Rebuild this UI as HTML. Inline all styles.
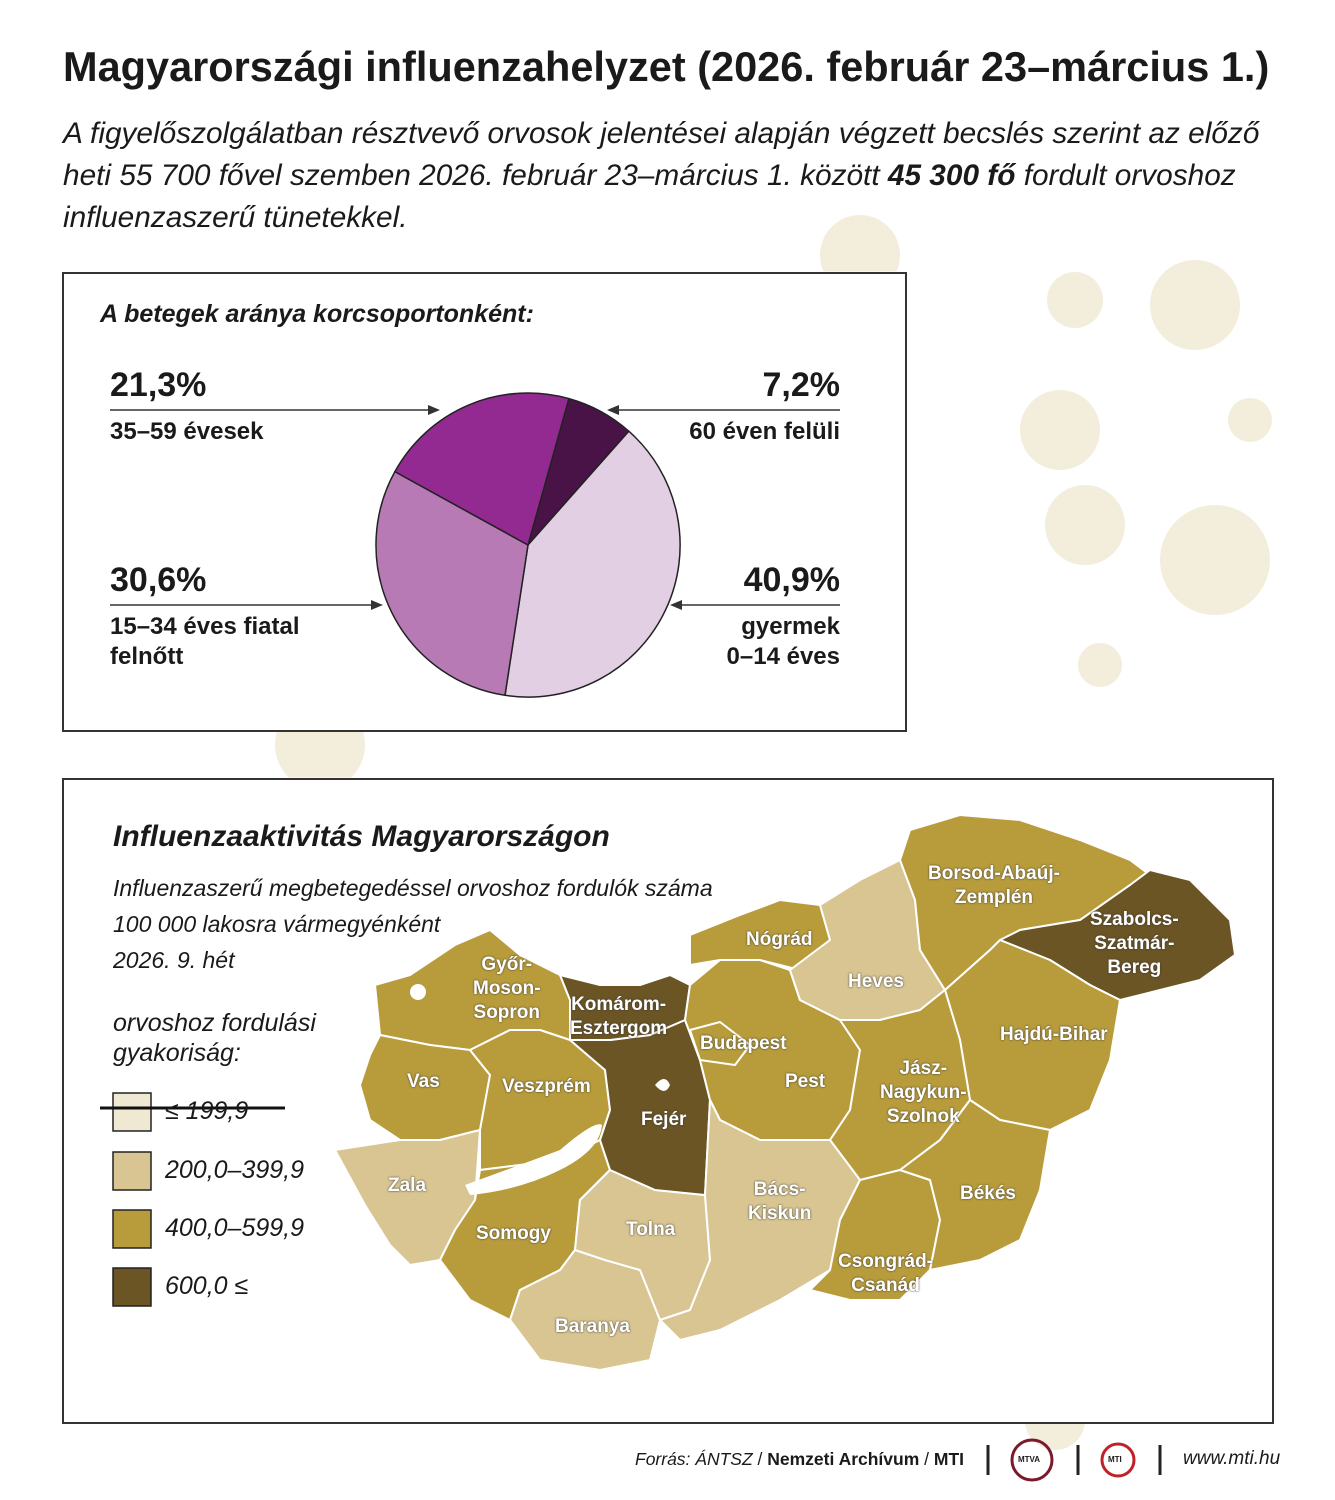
<!DOCTYPE html>
<html><head><meta charset="utf-8"><style>
body{margin:0;background:#fff;width:1335px;height:1500px;overflow:hidden;position:relative;font-family:"Liberation Sans",sans-serif;color:#1a1a1a}
.t{position:absolute;white-space:nowrap}
.box{position:absolute;border:2px solid #333;background:transparent}
</style></head><body>
<svg width="1335" height="1500" style="position:absolute;left:0;top:0">
<g fill="#f3eddc">
<circle cx="860" cy="255" r="40"/><circle cx="1195" cy="305" r="45"/><circle cx="1075" cy="300" r="28"/>
<circle cx="1060" cy="430" r="40"/><circle cx="1250" cy="420" r="22"/><circle cx="1085" cy="525" r="40"/>
<circle cx="1215" cy="560" r="55"/><circle cx="1100" cy="665" r="22"/><circle cx="320" cy="745" r="45"/>
<circle cx="1250" cy="1310" r="20"/><circle cx="375" cy="1380" r="40"/><circle cx="1055" cy="1420" r="30"/>
<circle cx="1090" cy="1330" r="18"/>
</g>
<g fill="#fff" stroke="#fff" stroke-width="1"><rect x="62" y="272" width="843" height="458"/><rect x="62" y="778" width="1210" height="644"/></g>
<g stroke="#fff" stroke-width="2" stroke-linejoin="round">
<polygon fill="#b89c3c" points="375,985 410,975 455,945 490,930 520,955 560,975 570,1000 570,1040 540,1030 510,1030 470,1050 430,1045 380,1035"/>
<polygon fill="#b89c3c" points="380,1035 430,1045 470,1050 490,1075 480,1130 440,1140 400,1140 370,1120 360,1085 370,1055"/>
<polygon fill="#d8c592" points="335,1150 400,1140 440,1140 480,1130 475,1200 455,1230 440,1260 410,1265 390,1245 365,1205"/>
<polygon fill="#b89c3c" points="470,1050 510,1030 540,1030 570,1040 605,1070 610,1110 600,1140 560,1160 480,1170 480,1130 490,1075"/>
<polygon fill="#b89c3c" points="455,1230 475,1200 480,1170 560,1160 600,1140 610,1170 580,1200 575,1250 560,1270 520,1290 510,1320 470,1300 440,1260"/>
<polygon fill="#d8c592" points="520,1290 560,1270 575,1250 605,1260 640,1270 660,1320 650,1360 600,1370 540,1360 510,1320"/>
<polygon fill="#d8c592" points="575,1250 580,1200 610,1170 655,1190 705,1195 710,1260 690,1310 660,1320 640,1270 605,1260"/>
<polygon fill="#6b5525" points="570,1040 610,1040 650,1035 685,1020 700,1060 710,1100 705,1195 655,1190 610,1170 600,1140 610,1110 605,1070"/>
<polygon fill="#6b5525" points="560,975 600,985 640,985 670,975 690,985 685,1020 650,1035 610,1040 570,1040 570,1000"/>
<polygon fill="#b89c3c" points="685,1020 690,985 720,960 760,960 790,970 800,1000 840,1020 860,1050 850,1110 830,1140 790,1140 760,1140 720,1120 710,1100 700,1060"/>
<polygon fill="#b89c3c" points="690,1030 720,1022 750,1045 735,1065 700,1060"/>
<polygon fill="#b89c3c" points="690,935 740,915 780,900 820,905 830,940 800,970 760,960 720,960 690,965"/>
<polygon fill="#d8c592" points="820,905 860,880 900,860 915,900 920,950 945,990 920,1010 880,1020 840,1020 800,1000 790,970 830,940"/>
<polygon fill="#b89c3c" points="900,860 910,830 960,815 1020,820 1080,840 1130,860 1150,875 1080,920 1020,930 990,950 945,990 920,950 915,900"/>
<polygon fill="#6b5525" points="1150,870 1190,880 1230,920 1235,955 1200,980 1160,990 1120,1000 1090,985 1050,960 1000,940 1020,930 1080,920 1130,885"/>
<polygon fill="#b89c3c" points="1000,940 1050,960 1090,985 1120,1000 1110,1060 1090,1110 1050,1130 1000,1120 970,1100 960,1040 945,990 990,950"/>
<polygon fill="#b89c3c" points="840,1020 880,1020 920,1010 945,990 960,1040 970,1100 940,1140 900,1170 860,1180 830,1140 850,1110 860,1050"/>
<polygon fill="#d8c592" points="710,1100 720,1120 760,1140 790,1140 830,1140 860,1180 840,1220 830,1270 780,1300 720,1330 680,1340 660,1320 690,1310 710,1260 705,1195"/>
<polygon fill="#b89c3c" points="860,1180 900,1170 930,1180 940,1220 930,1270 900,1300 850,1300 810,1290 830,1270 840,1220"/>
<polygon fill="#b89c3c" points="900,1170 940,1140 970,1100 1000,1120 1050,1130 1040,1190 1020,1240 980,1260 930,1270 940,1220 930,1180"/>
</g>
<path d="M465,1185 Q520,1165 560,1150 Q595,1120 602,1125 Q600,1150 560,1170 Q520,1190 470,1195 Z" fill="#fff"/>
<circle cx="418" cy="992" r="8" fill="#fff"/>
<path d="M655,1085 q10,-12 15,0 q-5,12 -15,0z" fill="#fff"/>
<g stroke="#333" stroke-width="1.5">
<line x1="110" y1="410" x2="435" y2="410"/><line x1="612" y1="410" x2="840" y2="410"/>
<line x1="110" y1="605" x2="378" y2="605"/><line x1="675" y1="605" x2="840" y2="605"/>
</g>
<g fill="#333"><polygon points="440,410 428,405 428,415"/><polygon points="607,410 619,405 619,415"/><polygon points="383,605 371,600 371,610"/><polygon points="670,605 682,600 682,610"/></g>
<g stroke="#222" stroke-width="1.5" stroke-linejoin="round">
<path d="M528,545 L568.9,398.6 A152,152 0 0 1 628.8,431.2 Z" fill="#4a1347"/>
<path d="M528,545 L628.8,431.2 A152,152 0 0 1 505,695.3 Z" fill="#e3cfe3"/>
<path d="M528,545 L505,695.3 A152,152 0 0 1 394.9,471.6 Z" fill="#b77ab5"/>
<path d="M528,545 L394.9,471.6 A152,152 0 0 1 568.9,398.6 Z" fill="#932a91"/>
</g>
<g stroke="#222" stroke-width="1.5">
<rect x="113" y="1093" width="38" height="38" fill="#efe8d3"/><rect x="113" y="1152" width="38" height="38" fill="#d8c592"/>
<rect x="113" y="1210" width="38" height="38" fill="#b89c3c"/><rect x="113" y="1268" width="38" height="38" fill="#6b5525"/>
</g>
<line x1="100" y1="1108" x2="285" y2="1108" stroke="#111" stroke-width="3"/>
<circle cx="1032" cy="1460" r="20" fill="none" stroke="#7a1a2a" stroke-width="3"/>
<circle cx="1118" cy="1460" r="16" fill="none" stroke="#c0202a" stroke-width="3"/>
<g stroke="#222" stroke-width="3"><line x1="988" y1="1445" x2="988" y2="1475"/><line x1="1078" y1="1445" x2="1078" y2="1475"/><line x1="1160" y1="1445" x2="1160" y2="1475"/></g>
</svg>
<div class="box" style="left:62px;top:272px;width:841px;height:456px"></div>
<div class="box" style="left:62px;top:778px;width:1208px;height:642px"></div>
<div class="t" style="left:63px;top:43px;font-size:41.5px;font-weight:bold">Magyarországi influenzahelyzet (2026. február 23–március 1.)</div>
<div class="t" style="left:63px;top:113px;font-size:29.8px;font-style:italic;line-height:42px">A figyelőszolgálatban résztvevő orvosok jelentései alapján végzett becslés szerint az előző<br>heti 55 700 fővel szemben 2026. február 23–március 1. között <b>45 300 fő</b> fordult orvoshoz<br>influenzaszerű tünetekkel.</div>
<div class="t" style="left:100px;top:300px;font-size:25px;font-weight:bold;font-style:italic">A betegek aránya korcsoportonként:</div>
<div class="t" style="left:110px;top:366px;font-size:34px;font-weight:bold">21,3%</div>
<div class="t" style="left:110px;top:418px;font-size:24px;font-weight:bold">35–59 évesek</div>
<div class="t" style="right:495px;top:366px;font-size:34px;font-weight:bold">7,2%</div>
<div class="t" style="right:495px;top:418px;font-size:24px;font-weight:bold">60 éven felüli</div>
<div class="t" style="left:110px;top:561px;font-size:34px;font-weight:bold">30,6%</div>
<div class="t" style="left:110px;top:612px;font-size:24px;font-weight:bold;line-height:30px">15–34 éves fiatal<br>felnőtt</div>
<div class="t" style="right:495px;top:561px;font-size:34px;font-weight:bold">40,9%</div>
<div class="t" style="right:495px;top:612px;font-size:24px;font-weight:bold;line-height:30px;text-align:right">gyermek<br>0–14 éves</div>
<div class="t" style="left:113px;top:820px;font-size:30px;font-weight:bold;font-style:italic">Influenzaaktivitás Magyarországon</div>
<div class="t" style="left:113px;top:870px;font-size:23px;font-style:italic;line-height:36px">Influenzaszerű megbetegedéssel orvoshoz fordulók száma<br>100 000 lakosra vármegyénként<br>2026. 9. hét</div>
<div class="t" style="left:113px;top:1008px;font-size:25px;font-style:italic;line-height:30px">orvoshoz fordulási<br>gyakoriság:</div>
<div class="t" style="left:165px;top:1097px;font-size:25px;font-style:italic">≤ 199,9</div>
<div class="t" style="left:165px;top:1156px;font-size:25px;font-style:italic">200,0–399,9</div>
<div class="t" style="left:165px;top:1214px;font-size:25px;font-style:italic">400,0–599,9</div>
<div class="t" style="left:165px;top:1272px;font-size:25px;font-style:italic">600,0 ≤</div>
<div style="position:absolute;left:0;top:0;color:#fff;font-weight:bold;font-size:19px;text-shadow:0 0 2px #333;line-height:24px">
<div class="t" style="left:473px;top:953px;text-align:center">Győr-<br>Moson-<br>Sopron</div>
<div class="t" style="left:570px;top:993px;text-align:center">Komárom-<br>Esztergom</div>
<div class="t" style="left:407px;top:1070px">Vas</div>
<div class="t" style="left:502px;top:1075px">Veszprém</div>
<div class="t" style="left:641px;top:1108px">Fejér</div>
<div class="t" style="left:388px;top:1174px">Zala</div>
<div class="t" style="left:476px;top:1222px">Somogy</div>
<div class="t" style="left:626px;top:1218px">Tolna</div>
<div class="t" style="left:555px;top:1315px">Baranya</div>
<div class="t" style="left:700px;top:1032px">Budapest</div>
<div class="t" style="left:785px;top:1070px">Pest</div>
<div class="t" style="left:746px;top:928px">Nógrád</div>
<div class="t" style="left:848px;top:970px">Heves</div>
<div class="t" style="left:928px;top:862px;text-align:center">Borsod-Abaúj-<br>Zemplén</div>
<div class="t" style="left:1090px;top:908px;text-align:center">Szabolcs-<br>Szatmár-<br>Bereg</div>
<div class="t" style="left:1000px;top:1023px">Hajdú-Bihar</div>
<div class="t" style="left:880px;top:1057px;text-align:center">Jász-<br>Nagykun-<br>Szolnok</div>
<div class="t" style="left:748px;top:1178px;text-align:center">Bács-<br>Kiskun</div>
<div class="t" style="left:960px;top:1182px">Békés</div>
<div class="t" style="left:838px;top:1250px;text-align:center">Csongrád-<br>Csanád</div>
</div>
<div class="t" style="left:635px;top:1449px;font-size:17.5px"><i>Forrás: ÁNTSZ</i> / <b>Nemzeti Archívum</b> / <b>MTI</b></div>
<div class="t" style="left:1018px;top:1455px;font-size:8px;font-weight:bold">MTVA</div>
<div class="t" style="left:1108px;top:1455px;font-size:8px;font-weight:bold">MTI</div>
<div class="t" style="left:1183px;top:1448px;font-size:19px;font-style:italic">www.mti.hu</div>
</body></html>
